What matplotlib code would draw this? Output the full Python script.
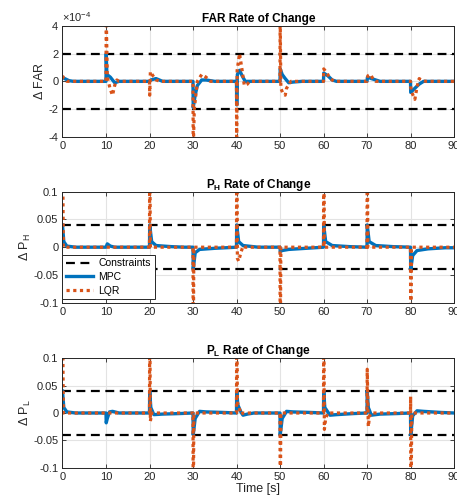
import matplotlib
matplotlib.use("Agg")
import matplotlib.pyplot as plt
import numpy as np

plt.rcParams['font.family'] = ['Liberation Sans', 'DejaVu Sans']
plt.rcParams['mathtext.fontset'] = 'custom'
plt.rcParams['mathtext.rm'] = 'Liberation Sans'
plt.rcParams['mathtext.it'] = 'Liberation Sans'
plt.rcParams['mathtext.bf'] = 'Liberation Sans:bold'

# ---- data -------------------------------------------------------------
FAR_SCALE = 1e-4   # FAR rates are listed in units of 1e-4

far_mpc_t = [0, 0.5, 1.5, 2.5, 10, 10.05, 10.2, 11, 12, 13,
             20, 20.3, 21.5, 23, 30, 30.05, 30.5, 31, 32, 33, 35,
             40, 40.05, 40.2, 40.7, 41.3, 42, 44,
             50, 50.05, 50.5, 51.2, 52, 53, 55,
             60, 60.05, 61, 62, 63, 70, 70.1, 71, 72, 73,
             80, 80.05, 81, 82, 83, 90]
far_mpc_v = [0.3, 0.2, 0.05, 0, 0, 2.0, 0.5, 0.3, -0.1, 0,
             0, 0.1, 0.2, 0, 0, -1.9, -1.0, -0.3, 0.1, 0.1, 0,
             0, -1.7, 0.5, 0.8, 0.4, 0, 0,
             0, 0.9, 0.5, 0.2, -0.1, -0.05, 0,
             0, 0.6, 0.4, 0.1, 0, 0, 0.3, 0.2, 0.1, 0,
             0, -0.8, -0.5, -0.2, 0, 0]

far_lqr_t = [0, 0.3, 1, 10, 10.05, 10.3, 11, 11.5, 12, 12.5, 13,
             20, 20.05, 20.2, 20.8, 21.5, 22.5,
             30, 30.05, 30.3, 31, 32, 33, 34,
             40, 40.03, 40.15, 40.7, 41.2, 41.8, 42.5, 43,
             50, 50.03, 50.2, 50.7, 51.2, 51.5, 52.5,
             60, 60.05, 60.8, 61.5, 62.5, 70, 70.2, 70.8, 71.5, 72,
             80, 80.05, 80.3, 81, 81.5, 82, 82.5, 83.5, 90]
far_lqr_v = [0.4, 0.2, 0, 0, 5.0, 0.3, -0.6, -1.0, -0.3, 0.1, 0,
             0, -1.0, 0.7, 0.4, 0.1, 0,
             0, -5.0, -2.0, 0, 0.5, 0.3, 0,
             0, -5.0, 0.8, 2.0, 1.0, -0.3, -0.2, 0,
             0, 5.0, -0.5, -0.9, -1.0, -0.5, 0,
             0, 0.9, 0.6, 0.2, 0, 0, 0.4, 0.5, 0.1, 0,
             0, -0.4, -0.8, -1.3, -0.4, 0.2, 0.1, 0, 0]

ph_mpc_t = [0, 0.3, 1, 3, 10, 10.3, 11, 12,
            20, 20.05, 20.5, 21.5, 25, 28,
            30, 30.05, 30.5, 31.5, 35, 40,
            40.05, 40.5, 41.5, 45, 50, 50.05, 50.5, 52, 56,
            60, 60.05, 60.5, 62, 66, 70, 70.05, 70.5, 72, 76,
            80, 80.05, 80.5, 81.5, 84, 88, 90]
ph_mpc_v = [0.04, 0.01, 0.002, 0, 0, 0.006, 0.002, 0,
            0, 0.04, 0.01, 0.003, 0.001, 0,
            0, -0.04, -0.01, -0.004, -0.002, 0,
            0.04, 0.01, 0.003, 0, 0, -0.008, -0.006, -0.004, -0.002,
            0, 0.04, 0.01, 0.003, 0.001, 0, 0.04, 0.01, 0.003, 0.001,
            0, -0.04, -0.015, -0.006, -0.003, -0.001, -0.001]

ph_lqr_t = [0, 0.2, 10, 20, 20.05, 20.2, 30, 30.05, 30.2,
            40, 40.05, 40.2, 40.5, 41, 41.5, 42,
            50, 50.05, 50.2, 60, 60.05, 60.2, 70, 70.05, 70.2,
            80, 80.05, 80.2, 90]
ph_lqr_v = [0.2, 0, 0, 0, 0.2, 0, 0, -0.2, 0,
            0, 0.2, -0.02, -0.025, -0.01, 0.002, 0,
            0, -0.2, 0, 0, 0.2, 0, 0, 0.2, 0,
            0, -0.2, 0, 0]

pl_mpc_t = [0, 0.3, 1, 3, 10, 10.05, 10.3, 10.8, 11.5, 13,
            20, 20.05, 20.3, 21, 23, 27,
            30, 30.05, 30.5, 31.5, 33, 37,
            40, 40.05, 40.3, 41, 41.5, 42.5, 44,
            50, 50.05, 50.5, 51.5, 53, 57,
            60, 60.05, 60.3, 61.5, 63, 67,
            70, 70.05, 70.3, 71, 73, 77,
            80, 80.05, 80.5, 81.5, 83, 87, 90]
pl_mpc_v = [0.04, 0.01, 0.002, 0, 0, -0.018, -0.01, 0.002, 0.003, 0,
            0, 0.04, 0.01, -0.003, -0.002, -0.001,
            0, -0.04, -0.01, 0.003, 0.002, 0.001,
            0, 0.04, 0.015, 0.002, -0.004, -0.002, 0,
            0, -0.04, -0.01, 0.003, 0.002, 0.001,
            0, 0.04, 0.01, -0.004, -0.003, -0.001,
            0, 0.04, 0.01, -0.004, -0.002, -0.001,
            0, -0.04, -0.005, 0.004, 0.003, 0.001, 0]

pl_lqr_t = [0, 0.2, 10, 20, 20.05, 20.2, 20.5, 30, 30.05, 30.2,
            40, 40.05, 40.2, 40.6, 41, 41.5,
            50, 50.05, 50.2, 60, 60.05, 60.2, 60.5, 61,
            70, 70.05, 70.3, 70.6, 71,
            80, 80.03, 80.08, 80.3, 90]
pl_lqr_v = [0.2, 0, 0, 0, 0.2, -0.015, 0, 0, -0.2, 0,
            0, 0.2, 0.02, 0.01, -0.002, 0,
            0, -0.2, 0, 0, 0.2, -0.03, -0.01, 0,
            0, 0.08, -0.025, -0.005, 0,
            0, 0.03, -0.2, 0, 0]

far_limit = 2.0
p_limit = 0.04

x_ticks = [0, 10, 20, 30, 40, 50, 60, 70, 80, 90]
far_ticks = [-4, -2, 0, 2, 4]
p_ticks = [-0.1, -0.05, 0, 0.05, 0.1]
p_tick_labels = ['-0.1', '-0.05', '0', '0.05', '0.1']

# ---- styling ----------------------------------------------------------
C_MPC = '#0072BD'
C_LQR = '#D95319'
C_AX = '#262626'

fig = plt.figure(figsize=(4.57, 5.04), dpi=100)
W, H = 457.0, 504.0
left, right = 62.5, 454.0
boxes = [(26.0, 136.7), (191.7, 302.7), (358.3, 467.7)]
axes = []
for top, bot in boxes:
    ax = fig.add_axes([left / W, 1 - bot / H, (right - left) / W, (bot - top) / H])
    axes.append(ax)


def style(ax):
    ax.set_xlim(0, 90)
    ax.set_xticks(x_ticks)
    ax.grid(True, color='#e3e3e3', linewidth=0.8)
    ax.set_axisbelow(True)
    ax.tick_params(direction='in', length=3, width=0.6, colors=C_AX,
                   labelsize=8, top=True, right=True, pad=3)
    for s in ax.spines.values():
        s.set_color(C_AX)
        s.set_linewidth(0.7)


def draw(ax, t_mpc, v_mpc, t_lqr, v_lqr, limit, scale=1.0):
    ax.axhline(limit * scale, color='k', linewidth=1.6, dashes=(4, 2.5), label='Constraints')
    ax.axhline(-limit * scale, color='k', linewidth=1.6, dashes=(4, 2.5))
    ax.plot(t_mpc, np.asarray(v_mpc) * scale, color=C_MPC, linewidth=2.4, label='MPC')
    ax.plot(t_lqr, np.asarray(v_lqr) * scale, color=C_LQR, linewidth=2.3,
            dashes=(1, 1.1), label='LQR')


# FAR
ax = axes[0]
draw(ax, far_mpc_t, far_mpc_v, far_lqr_t, far_lqr_v, far_limit, FAR_SCALE)
style(ax)
ax.set_ylim(-4 * FAR_SCALE, 4 * FAR_SCALE)
ax.set_yticks([v * FAR_SCALE for v in far_ticks])
ax.set_yticklabels([str(v) for v in far_ticks])
ax.text(0.0, 1.015, r'$\times10^{-4}$', transform=ax.transAxes, fontsize=8,
        color=C_AX, ha='left', va='bottom')
ax.set_title('FAR Rate of Change', fontsize=8.5, fontweight='bold', pad=3)
ax.set_ylabel(r'$\Delta$ FAR', fontsize=9, color=C_AX, labelpad=2)

# P_H
ax = axes[1]
draw(ax, ph_mpc_t, ph_mpc_v, ph_lqr_t, ph_lqr_v, p_limit)
style(ax)
ax.set_ylim(-0.1, 0.1)
ax.set_yticks(p_ticks)
ax.set_yticklabels(p_tick_labels)
ax.set_title(r'$\mathbf{P_H}$ Rate of Change', fontsize=8.5, fontweight='bold', pad=3)
ax.set_ylabel(r'$\Delta$ P$_H$', fontsize=9, color=C_AX, labelpad=0)
leg = ax.legend(loc='lower left', bbox_to_anchor=(0.0, 0.03), fontsize=7.5,
                handlelength=2.6, handletextpad=0.5, borderpad=0.35,
                labelspacing=0.35, fancybox=False, framealpha=1,
                borderaxespad=0)
leg.get_frame().set_edgecolor(C_AX)
leg.get_frame().set_linewidth(0.7)

# P_L
ax = axes[2]
draw(ax, pl_mpc_t, pl_mpc_v, pl_lqr_t, pl_lqr_v, p_limit)
style(ax)
ax.set_ylim(-0.1, 0.1)
ax.set_yticks(p_ticks)
ax.set_yticklabels(p_tick_labels)
ax.set_title(r'$\mathbf{P_L}$ Rate of Change', fontsize=8.5, fontweight='bold', pad=3)
ax.set_ylabel(r'$\Delta$ P$_L$', fontsize=9, color=C_AX, labelpad=0)
ax.set_xlabel('Time [s]', fontsize=9, color=C_AX, labelpad=1)

fig.savefig('out.png', dpi=100)
